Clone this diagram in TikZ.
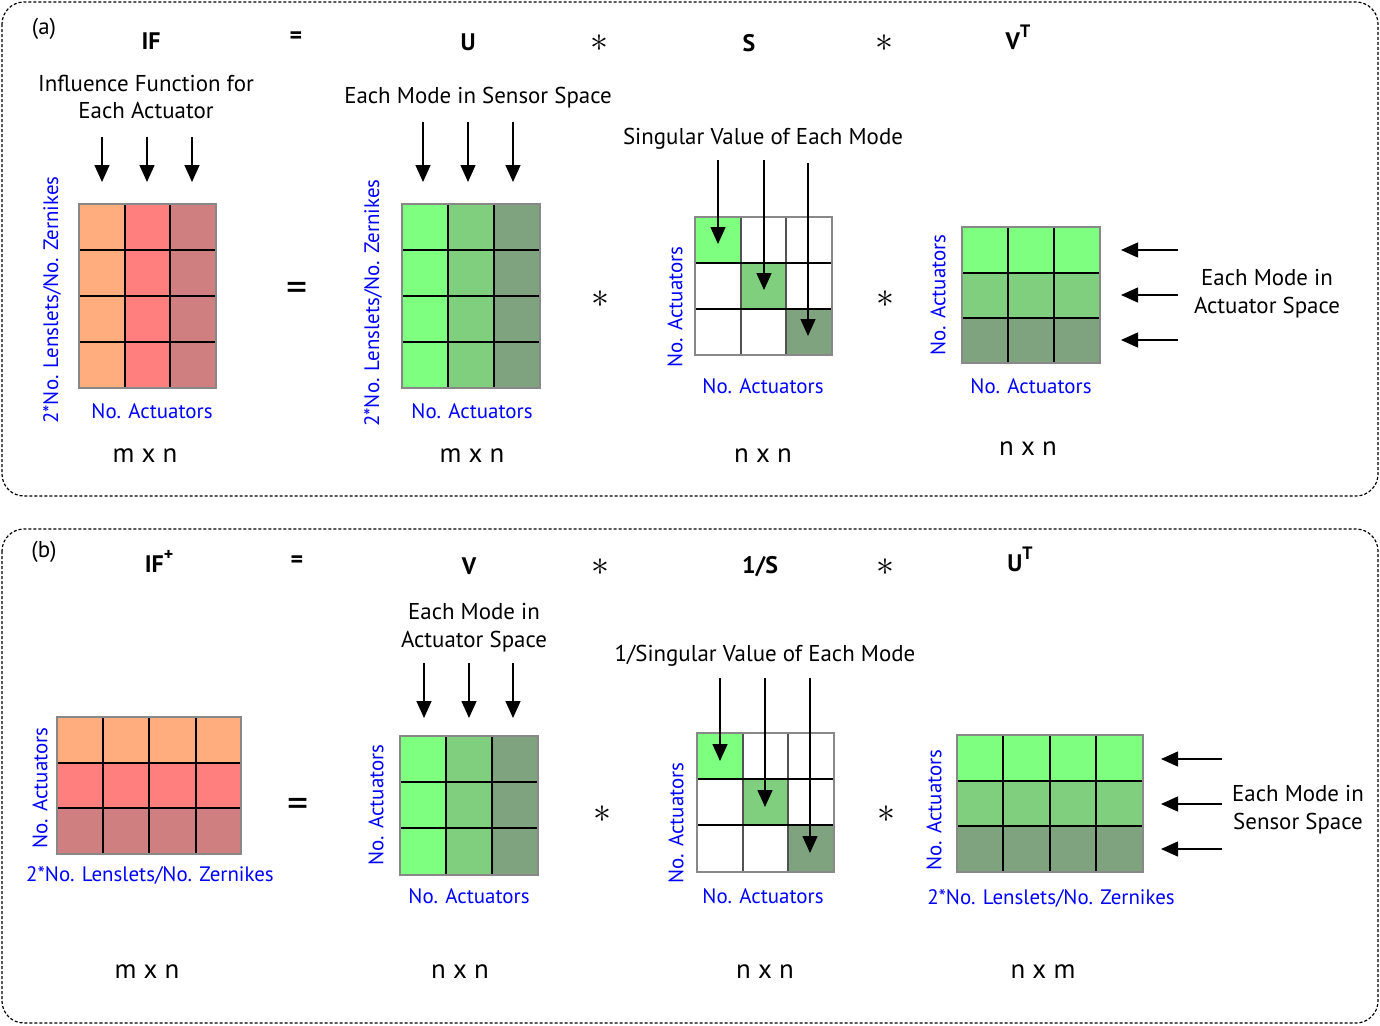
\documentclass[tikz,border=0pt]{standalone}
\usepackage{fontspec}
\setmainfont{PT Sans}
\usepackage{graphicx}
\usepackage{tikz}
\usetikzlibrary{arrows.meta, positioning}
\definecolor{ifOrange}{HTML}{FFAD7F}
\definecolor{ifRed}{HTML}{FF7F7F}
\definecolor{ifDark}{HTML}{CF7F7F}
\definecolor{modeA}{HTML}{7FFF7F}
\definecolor{modeB}{HTML}{7FCF7F}
\definecolor{modeC}{HTML}{7FA27F}
\definecolor{gridGray}{HTML}{888888}
\newcommand{\bigstar}{\scalebox{3.6}{$\ast$}}
\newcommand{\supbox}[1]{\raisebox{0.5em}{\fontsize{18}{18}\selectfont\bfseries #1}}
\tikzset{
  panel/.style = {line width = 1.2bp, dash pattern = on 3bp off 2bp, rounded corners = 22bp},
  cellline/.style = {black, line width = 1.3bp},
  frame/.style = {gridGray, line width = 2bp},
  modearrow/.style = {line width = 1.4bp, -{Triangle[width = 15bp, length = 17bp]}},
  boldlbl/.style = {font = \fontsize{24}{26}\selectfont\bfseries},
  textlbl/.style = {font = \fontsize{23}{28}\selectfont, align = center},
  axislbl/.style = {font = \fontsize{21}{24}\selectfont, text = blue},
  sizelbl/.style = {font = \fontsize{27}{30}\selectfont},
  oplbl/.style = {inner sep = 0pt},
  eqlbl/.style = {inner sep = 0pt, font = \fontsize{42}{42}\selectfont},
}

\begin{document}
\begin{tikzpicture}[x = 1bp, y = -1bp]
  \useasboundingbox (0, 0) rectangle (1380, 1025);

  % ------------------------
  % panel frames
  % ------------------------
  \draw[panel] (2, 2) rectangle (1378, 496);
  \draw[panel] (2, 529) rectangle (1378, 1023);

  % ------------------------
  % panel (a): IF = U * S * V^T
  % ------------------------
  \node[textlbl] (tagA) at (44, 29) {(a)};
  \node[boldlbl] (IFa) at (151, 41) {IF};
  \node[boldlbl] (eqTopA) at (296, 38) {=};
  \node[boldlbl] (Ua) at (468, 42) {U};
  \node[oplbl] (starTopA1) at (599, 43) {\bigstar};
  \node[boldlbl] (Sa) at (749, 43) {S};
  \node[oplbl] (starTopA2) at (884, 43) {\bigstar};
  \node[boldlbl] (VTa) at (1018, 37) {V\supbox{T}};

  % IF matrix (m x n)
  \fill[ifOrange] (79, 204) rectangle (125, 388);
  \fill[ifRed] (125, 204) rectangle (170, 388);
  \fill[ifDark] (170, 204) rectangle (216, 388);
  \draw[cellline] (125, 204) -- (125, 388);
  \draw[cellline] (170, 204) -- (170, 388);
  \draw[cellline] (79, 250) -- (216, 250);
  \draw[cellline] (79, 296) -- (216, 296);
  \draw[cellline] (79, 342) -- (216, 342);
  \draw[frame] (79, 204) rectangle (216, 388);
  \node[textlbl] (ifNote) at (146, 97) {Influence Function for\\Each Actuator};
  \coordinate (ifA1) at (102, 137);
  \coordinate (ifA2) at (147, 137);
  \coordinate (ifA3) at (192, 137);
  \coordinate (ifB1) at (102, 182);
  \coordinate (ifB2) at (147, 182);
  \coordinate (ifB3) at (192, 182);
  \draw[modearrow] (ifA1) -- (ifB1);
  \draw[modearrow] (ifA2) -- (ifB2);
  \draw[modearrow] (ifA3) -- (ifB3);
  \node[axislbl, rotate = 90] (ifRows) at (52, 300) {2*No. Lenslets/No. Zernikes};
  \node[axislbl] (ifCols) at (152, 411) {No. Actuators};
  \node[sizelbl] (ifSize) at (145, 456) {m x n};

  \node[eqlbl] (eqA) at (297, 292) {=};

  % U matrix (m x n)
  \fill[modeA] (402, 204) rectangle (448, 388);
  \fill[modeB] (448, 204) rectangle (494, 388);
  \fill[modeC] (494, 204) rectangle (540, 388);
  \draw[cellline] (448, 204) -- (448, 388);
  \draw[cellline] (494, 204) -- (494, 388);
  \draw[cellline] (402, 250) -- (540, 250);
  \draw[cellline] (402, 296) -- (540, 296);
  \draw[cellline] (402, 342) -- (540, 342);
  \draw[frame] (402, 204) rectangle (540, 388);
  \node[textlbl] (uNote) at (478, 98) {Each Mode in Sensor Space};
  \coordinate (uA1) at (423, 122);
  \coordinate (uA2) at (468, 122);
  \coordinate (uA3) at (513, 122);
  \coordinate (uB1) at (423, 182);
  \coordinate (uB2) at (468, 182);
  \coordinate (uB3) at (513, 182);
  \draw[modearrow] (uA1) -- (uB1);
  \draw[modearrow] (uA2) -- (uB2);
  \draw[modearrow] (uA3) -- (uB3);
  \node[axislbl, rotate = 90] (uRows) at (373, 303) {2*No. Lenslets/No. Zernikes};
  \node[axislbl] (uCols) at (472, 411) {No. Actuators};
  \node[sizelbl] (uSize) at (472, 456) {m x n};

  \node[oplbl] (starA1) at (600, 299) {\bigstar};

  % S matrix (n x n)
  \fill[modeA] (695, 217) rectangle (741, 263);
  \fill[modeB] (741, 263) rectangle (786, 309);
  \fill[modeC] (786, 309) rectangle (832, 355);
  \draw[cellline, gridGray!60!black] (741, 217) -- (741, 355);
  \draw[cellline, gridGray!60!black] (786, 217) -- (786, 355);
  \draw[cellline] (695, 263) -- (832, 263);
  \draw[cellline] (695, 309) -- (832, 309);
  \draw[frame] (695, 217) rectangle (832, 355);
  \node[textlbl] (sNote) at (763, 139) {Singular Value of Each Mode};
  \coordinate (sA1) at (718, 160);
  \coordinate (sA2) at (764, 160);
  \coordinate (sA3) at (808, 163);
  \coordinate (sB1) at (718, 244);
  \coordinate (sB2) at (764, 290);
  \coordinate (sB3) at (808, 336);
  \draw[modearrow] (sA1) -- (sB1);
  \draw[modearrow] (sA2) -- (sB2);
  \draw[modearrow] (sA3) -- (sB3);
  \node[axislbl, rotate = 90] (sRows) at (675, 307) {No. Actuators};
  \node[axislbl] (sCols) at (763, 386) {No. Actuators};
  \node[sizelbl] (sSize) at (763, 456) {n x n};

  \node[oplbl] (starA2) at (885, 299) {\bigstar};

  % V^T matrix (n x n)
  \fill[modeA] (962, 227) rectangle (1100, 273);
  \fill[modeB] (962, 273) rectangle (1100, 318);
  \fill[modeC] (962, 318) rectangle (1100, 363);
  \draw[cellline] (1008, 227) -- (1008, 363);
  \draw[cellline] (1054, 227) -- (1054, 363);
  \draw[cellline] (962, 273) -- (1100, 273);
  \draw[cellline] (962, 318) -- (1100, 318);
  \draw[frame] (962, 227) rectangle (1100, 363);
  \node[textlbl] (vtNote) at (1267, 294) {Each Mode in\\Actuator Space};
  \coordinate (vtA1) at (1178, 250);
  \coordinate (vtA2) at (1178, 295);
  \coordinate (vtA3) at (1178, 340);
  \coordinate (vtB1) at (1121, 250);
  \coordinate (vtB2) at (1121, 295);
  \coordinate (vtB3) at (1121, 340);
  \draw[modearrow] (vtA1) -- (vtB1);
  \draw[modearrow] (vtA2) -- (vtB2);
  \draw[modearrow] (vtA3) -- (vtB3);
  \node[axislbl, rotate = 90] (vtRows) at (938, 295) {No. Actuators};
  \node[axislbl] (vtCols) at (1031, 386) {No. Actuators};
  \node[sizelbl] (vtSize) at (1028, 449) {n x n};

  % ------------------------
  % panel (b): IF^+ = V * 1/S * U^T
  % ------------------------
  \node[textlbl] (tagB) at (44, 552) {(b)};
  \node[boldlbl] (IFb) at (159, 561) {IF\supbox{+}};
  \node[boldlbl] (eqTopB) at (297, 562) {=};
  \node[boldlbl] (Vb) at (469, 566) {V};
  \node[oplbl] (starTopB1) at (600, 567) {\bigstar};
  \node[boldlbl] (invSb) at (760, 567) {1/S};
  \node[oplbl] (starTopB2) at (885, 567) {\bigstar};
  \node[boldlbl] (UTb) at (1020, 559) {U\supbox{T}};

  % IF^+ matrix
  \fill[ifOrange] (57, 717) rectangle (241, 763);
  \fill[ifRed] (57, 763) rectangle (241, 808);
  \fill[ifDark] (57, 808) rectangle (241, 854);
  \draw[cellline] (103, 717) -- (103, 854);
  \draw[cellline] (149, 717) -- (149, 854);
  \draw[cellline] (196, 717) -- (196, 854);
  \draw[cellline] (57, 763) -- (241, 763);
  \draw[cellline] (57, 808) -- (241, 808);
  \draw[frame] (57, 717) rectangle (241, 854);
  \node[axislbl, rotate = 90] (ipRows) at (40, 788) {No. Actuators};
  \node[axislbl] (ipCols) at (150, 875) {2*No. Lenslets/No. Zernikes};
  \node[sizelbl] (ipSize) at (147, 972) {m x n};

  \node[eqlbl] (eqB) at (298, 808) {=};

  % V matrix (n x n)
  \fill[modeA] (400, 736) rectangle (446, 875);
  \fill[modeB] (446, 736) rectangle (492, 875);
  \fill[modeC] (492, 736) rectangle (538, 875);
  \draw[cellline] (446, 736) -- (446, 875);
  \draw[cellline] (492, 736) -- (492, 875);
  \draw[cellline] (400, 782) -- (538, 782);
  \draw[cellline] (400, 828) -- (538, 828);
  \draw[frame] (400, 736) rectangle (538, 875);
  \node[textlbl] (vNote) at (474, 628) {Each Mode in\\Actuator Space};
  \coordinate (vA1) at (424, 663);
  \coordinate (vA2) at (469, 663);
  \coordinate (vA3) at (513, 663);
  \coordinate (vB1) at (424, 718);
  \coordinate (vB2) at (469, 718);
  \coordinate (vB3) at (513, 718);
  \draw[modearrow] (vA1) -- (vB1);
  \draw[modearrow] (vA2) -- (vB2);
  \draw[modearrow] (vA3) -- (vB3);
  \node[axislbl, rotate = 90] (vRows) at (376, 805) {No. Actuators};
  \node[axislbl] (vCols) at (469, 896) {No. Actuators};
  \node[sizelbl] (vSize) at (460, 972) {n x n};

  \node[oplbl] (starB1) at (602, 814) {\bigstar};

  % 1/S matrix (n x n)
  \fill[modeA] (697, 733) rectangle (743, 779);
  \fill[modeB] (743, 779) rectangle (788, 825);
  \fill[modeC] (788, 825) rectangle (834, 872);
  \draw[cellline, gridGray!60!black] (743, 733) -- (743, 872);
  \draw[cellline, gridGray!60!black] (788, 733) -- (788, 872);
  \draw[cellline] (697, 779) -- (834, 779);
  \draw[cellline] (697, 825) -- (834, 825);
  \draw[frame] (697, 733) rectangle (834, 872);
  \node[textlbl] (isNote) at (765, 656) {1/Singular Value of Each Mode};
  \coordinate (isA1) at (720, 678);
  \coordinate (isA2) at (765, 678);
  \coordinate (isA3) at (810, 678);
  \coordinate (isB1) at (720, 761);
  \coordinate (isB2) at (765, 807);
  \coordinate (isB3) at (810, 853);
  \draw[modearrow] (isA1) -- (isB1);
  \draw[modearrow] (isA2) -- (isB2);
  \draw[modearrow] (isA3) -- (isB3);
  \node[axislbl, rotate = 90] (isRows) at (676, 823) {No. Actuators};
  \node[axislbl] (isCols) at (763, 896) {No. Actuators};
  \node[sizelbl] (isSize) at (765, 972) {n x n};

  \node[oplbl] (starB2) at (886, 814) {\bigstar};

  % U^T matrix (n x m)
  \fill[modeA] (957, 735) rectangle (1143, 781);
  \fill[modeB] (957, 781) rectangle (1143, 826);
  \fill[modeC] (957, 826) rectangle (1143, 872);
  \draw[cellline] (1003, 735) -- (1003, 872);
  \draw[cellline] (1050, 735) -- (1050, 872);
  \draw[cellline] (1096, 735) -- (1096, 872);
  \draw[cellline] (957, 781) -- (1143, 781);
  \draw[cellline] (957, 826) -- (1143, 826);
  \draw[frame] (957, 735) rectangle (1143, 872);
  \node[textlbl] (utNote) at (1298, 810) {Each Mode in\\Sensor Space};
  \coordinate (utA1) at (1222, 759);
  \coordinate (utA2) at (1222, 804);
  \coordinate (utA3) at (1222, 849);
  \coordinate (utB1) at (1161, 759);
  \coordinate (utB2) at (1161, 804);
  \coordinate (utB3) at (1161, 849);
  \draw[modearrow] (utA1) -- (utB1);
  \draw[modearrow] (utA2) -- (utB2);
  \draw[modearrow] (utA3) -- (utB3);
  \node[axislbl, rotate = 90] (utRows) at (934, 810) {No. Actuators};
  \node[axislbl] (utCols) at (1051, 898) {2*No. Lenslets/No. Zernikes};
  \node[sizelbl] (utSize) at (1043, 972) {n x m};
\end{tikzpicture}
\end{document}
